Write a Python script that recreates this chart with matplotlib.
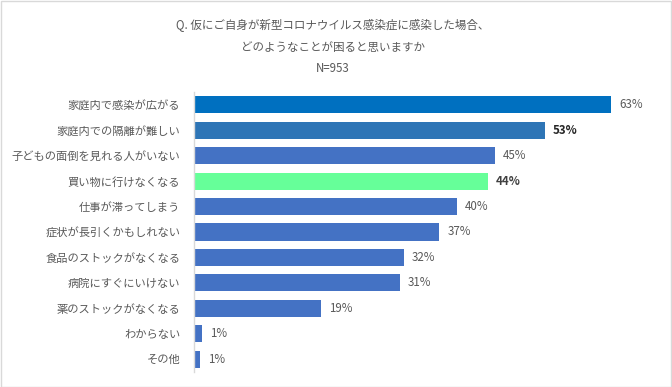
import matplotlib
matplotlib.use("Agg")
import matplotlib.pyplot as plt
from matplotlib.patches import Rectangle

plt.rcParams['font.family'] = ['Noto Sans CJK JP', 'DejaVu Sans']

categories = ["家庭内で感染が広がる", "家庭内での隔離が難しい", "子どもの面倒を見れる人がいない",
              "買い物に行けなくなる", "仕事が滞ってしまう", "症状が長引くかもしれない",
              "食品のストックがなくなる", "病院にすぐにいけない", "薬のストックがなくなる",
              "わからない", "その他"]
values = [63.0, 53.0, 45.4, 44.4, 39.7, 37.0, 31.7, 31.1, 19.2, 1.2, 0.9]
value_labels = ["63%", "53%", "45%", "44%", "40%", "37%", "32%", "31%", "19%", "1%", "1%"]
colors = ["#0070C0", "#2E75B6", "#4472C4", "#66FF99", "#4472C4", "#4472C4",
          "#4472C4", "#4472C4", "#4472C4", "#4472C4", "#4472C4"]
bold = [False, True, False, True, False, False, False, False, False, False, False]
label_colors = ["#595959", "#262626", "#595959", "#404040"] + ["#595959"] * 7
title = "Q. 仮にご自身が新型コロナウイルス感染症に感染した場合、\nどのようなことが困ると思いますか\nN=953"

W, H = 672, 387
fig = plt.figure(figsize=(W / 100, H / 100), dpi=100)
ax = fig.add_axes([194 / W, 1 - 372 / H, (640 - 194) / W, (372 - 92) / H])

n = len(categories)
y = list(range(n))
ax.barh(y, values, height=0.67, color=colors)
ax.set_ylim(n - 0.5, -0.5)
ax.set_xlim(0, 63.0 * (640 - 194) / (611 - 194))
ax.set_yticks(y)
ax.set_yticklabels(categories, fontsize=8.1, color="#595959")
ax.tick_params(axis='y', length=0, pad=10)
ax.set_xticks([])
for s in ["top", "right", "bottom"]:
    ax.spines[s].set_visible(False)
ax.spines["left"].set_color("#D9D9D9")
ax.spines["left"].set_linewidth(1.0)

for i, (v, lab) in enumerate(zip(values, value_labels)):
    ax.annotate(lab, (v, i), xytext=(6, 0), textcoords="offset points",
                va="center", ha="left", fontsize=8.3,
                fontweight="bold" if bold[i] else "normal", color=label_colors[i])

fig.text(333 / W, 1 - 47 / H, title, ha="center", va="center", fontsize=8.3,
         color="#595959", linespacing=1.85)

fig.patches.append(Rectangle((0.5 / W, 0.5 / H), 1 - 1.5 / W, 1 - 1.5 / H,
                             transform=fig.transFigure, fill=False,
                             edgecolor="#D9D9D9", linewidth=1.0))

fig.savefig("out.png", dpi=100, facecolor="white")
